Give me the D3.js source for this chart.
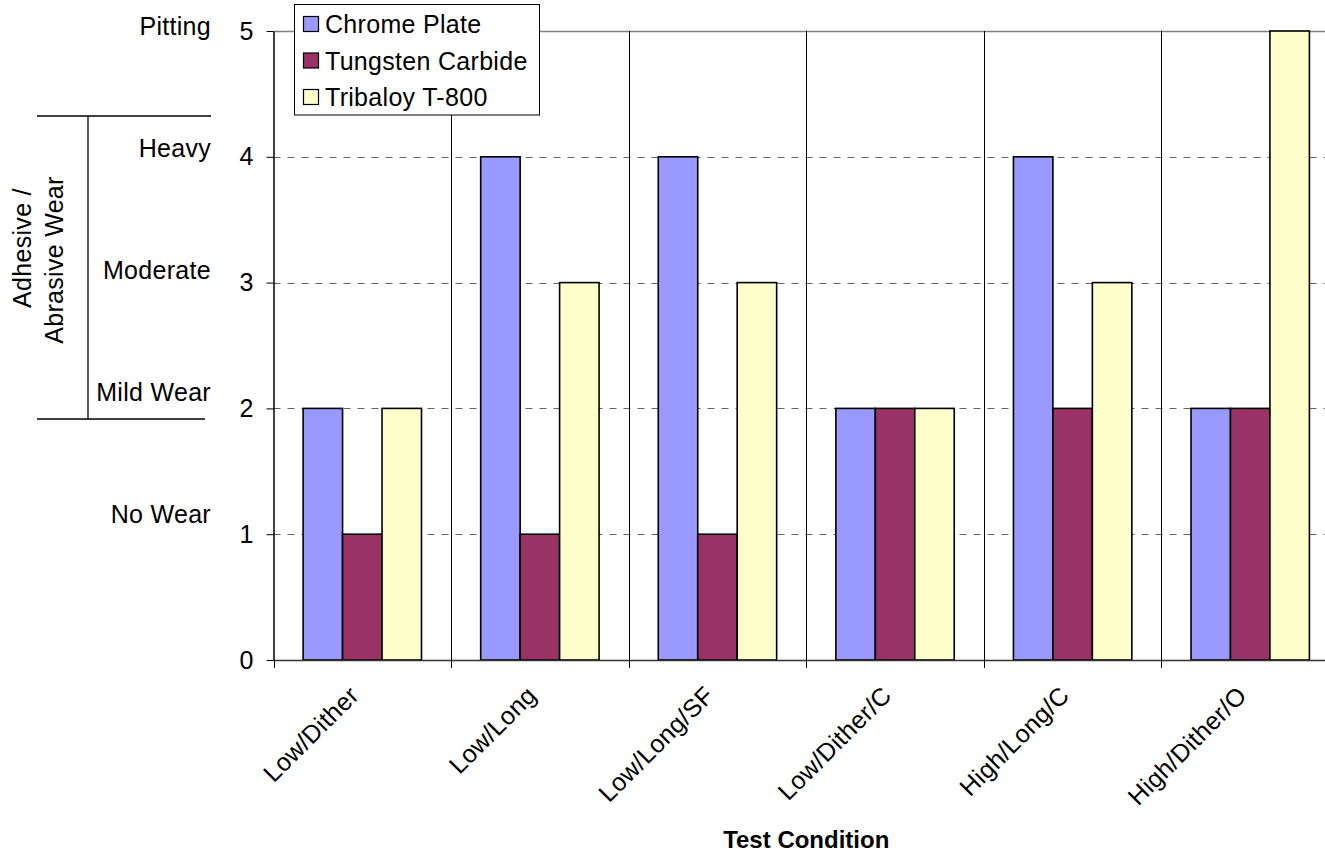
<!DOCTYPE html>
<html>
<head>
<meta charset="utf-8">
<script src="https://cdn.jsdelivr.net/npm/d3@7"></script>
<style>
  html, body { margin: 0; padding: 0; background: #fff; }
  svg { display: block; }
  text { font-family: "Liberation Sans", Arial, sans-serif; fill: #000; }
</style>
</head>
<body>
<svg id="chart" width="1325" height="856"></svg>
<script>
// ---------- data ----------
const categories = ["Low/Dither", "Low/Long", "Low/Long/SF", "Low/Dither/C", "High/Long/C", "High/Dither/O"];
const seriesNames = ["Chrome Plate", "Tungsten Carbide", "Tribaloy T-800"];
const chromePlate = [2, 4, 4, 2, 4, 2];
const tungstenCarbide = [1, 1, 1, 2, 2, 2];
const tribaloyT800 = [2, 3, 3, 2, 3, 5];
const yTickValues = [0, 1, 2, 3, 4, 5];
const wearLevelValues = [1, 2, 3, 4, 5];
const wearLevelLabels = ["No Wear", "Mild Wear", "Moderate", "Heavy", "Pitting"];
const yAxisTitleLines = ["Adhesive /", "Abrasive Wear"];
const xAxisTitle = "Test Condition";

// ---------- styles ----------
const colors = ["#9999FF", "#993366", "#FFFFCC"];
const fontSize = 25;
const letterSpacing = 0.3;

const seriesValues = [chromePlate, tungstenCarbide, tribaloyT800];
const table = categories.map((c, i) => ({
  category: c,
  values: seriesNames.map((s, j) => ({ series: s, index: j, value: seriesValues[j][i] }))
}));

const svg = d3.select("#chart");

// plot area
const plotLeft = 273.5, plotRight = 1339, plotTop = 31, plotBottom = 660;

const x = d3.scaleBand().domain(categories).range([plotLeft, plotRight]).paddingInner(0).paddingOuter(0);
const step = x.step();
const barW = step / 4.5; // Excel gap width 150%
const x1 = d3.scaleBand().domain(seriesNames).range([barW * 0.75, step - barW * 0.75]).padding(0);
const y = d3.scaleLinear().domain([0, 5]).range([plotBottom, plotTop]);

// horizontal gridlines (dashed) 1..4
svg.append("g").selectAll("line")
  .data(yTickValues.filter(v => v > 0 && v < 5))
  .join("line")
  .attr("x1", plotLeft).attr("x2", plotRight)
  .attr("y1", d => Math.round(y(d)) + 0.5).attr("y2", d => Math.round(y(d)) + 0.5)
  .attr("stroke", "#666").attr("stroke-width", 1).attr("stroke-dasharray", "7,7");

// top border (gray)
svg.append("line")
  .attr("x1", plotLeft).attr("x2", plotRight)
  .attr("y1", Math.round(y(5)) + 0.5).attr("y2", Math.round(y(5)) + 0.5)
  .attr("stroke", "#808080").attr("stroke-width", 1.5);

// vertical category gridlines
const boundaries = categories.map(c => x(c)).concat([x(categories[categories.length - 1]) + step]);
svg.append("g").selectAll("line")
  .data(boundaries.slice(1))
  .join("line")
  .attr("x1", d => Math.round(d) + 0.5).attr("x2", d => Math.round(d) + 0.5)
  .attr("y1", plotTop).attr("y2", plotBottom)
  .attr("stroke", "#000").attr("stroke-width", 1);

// bars
const groups = svg.append("g").selectAll("g")
  .data(table).join("g")
  .attr("transform", d => `translate(${x(d.category)},0)`);
groups.selectAll("rect")
  .data(d => d.values).join("rect")
  .attr("x", d => x1(d.series))
  .attr("width", x1.bandwidth())
  .attr("y", d => y(d.value))
  .attr("height", d => y(0) - y(d.value))
  .attr("fill", d => colors[d.index])
  .attr("stroke", "#000").attr("stroke-width", 1.6);

// x axis line + ticks at boundaries
svg.append("line")
  .attr("x1", plotLeft).attr("x2", plotRight)
  .attr("y1", plotBottom + 0.5).attr("y2", plotBottom + 0.5)
  .attr("stroke", "#333").attr("stroke-width", 1.5);
svg.append("g").selectAll("line")
  .data(boundaries)
  .join("line")
  .attr("x1", d => Math.round(d) + 0.5).attr("x2", d => Math.round(d) + 0.5)
  .attr("y1", plotBottom).attr("y2", plotBottom + 8)
  .attr("stroke", "#000").attr("stroke-width", 1);

// y axis
const yAxis = d3.axisLeft(y).tickValues(yTickValues).tickSize(7).tickSizeOuter(0).tickPadding(13).tickFormat(d3.format("d"));
const gy = svg.append("g").attr("transform", `translate(${plotLeft},0)`).call(yAxis);
gy.select(".domain").attr("stroke", "#000").attr("stroke-width", 1.5);
gy.selectAll(".tick line").attr("stroke", "#000");
gy.selectAll(".tick text")
  .style("font-family", '"Liberation Sans", Arial, sans-serif')
  .style("font-size", fontSize + "px").attr("fill", "#000");

// x tick labels rotated
svg.append("g").selectAll("text")
  .data(categories).join("text")
  .attr("transform", d => `translate(${x(d) + step / 2 - 2},${plotBottom + 37}) rotate(-45)`)
  .attr("text-anchor", "end")
  .style("font-size", fontSize + "px")
  .style("letter-spacing", letterSpacing + "px")
  .text(d => d);

// x axis title
svg.append("text")
  .attr("x", (plotLeft + plotRight) / 2).attr("y", 848)
  .attr("text-anchor", "middle")
  .style("font-size", "24px").style("font-weight", "bold")
  .text(xAxisTitle);

// wear level labels
const wearY = d3.scaleLinear().domain([1, 5]).range([514, 26]);
svg.append("g").selectAll("text")
  .data(wearLevelValues).join("text")
  .attr("x", 211).attr("y", d => wearY(d))
  .attr("dy", "0.36em")
  .attr("text-anchor", "end")
  .style("font-size", fontSize + "px")
  .style("letter-spacing", letterSpacing + "px")
  .text((d, i) => wearLevelLabels[i]);

// bracket
const bracket = svg.append("g").attr("stroke", "#000").attr("stroke-width", 1.3);
bracket.append("line").attr("x1", 37).attr("x2", 211).attr("y1", 116).attr("y2", 116);
bracket.append("line").attr("x1", 37).attr("x2", 205).attr("y1", 419).attr("y2", 419);
bracket.append("line").attr("x1", 88).attr("x2", 88).attr("y1", 116).attr("y2", 419);

// rotated axis title
const titleG = svg.append("g");
titleG.selectAll("text")
  .data(yAxisTitleLines).join("text")
  .attr("transform", (d, i) => `translate(${i === 0 ? 31 : 63},${i === 0 ? 248 : 260}) rotate(-90)`)
  .attr("text-anchor", "middle")
  .style("font-size", fontSize + "px")
  .style("letter-spacing", letterSpacing + "px")
  .text(d => d);

// legend
const legend = svg.append("g");
legend.append("rect")
  .attr("x", 294.5).attr("y", 4.5).attr("width", 245).attr("height", 110.5)
  .attr("fill", "#fff").attr("stroke", "#000").attr("stroke-width", 1);
const li = legend.selectAll("g.item").data(seriesNames).join("g").attr("class", "item")
  .attr("transform", (d, i) => `translate(0,${24 + i * 36.5})`);
li.append("rect")
  .attr("x", 303.5).attr("y", -7.5).attr("width", 15).attr("height", 15)
  .attr("fill", (d, i) => colors[i]).attr("stroke", "#000").attr("stroke-width", 1.2);
li.append("text")
  .attr("x", 325).attr("y", 0).attr("dy", "0.36em")
  .style("font-size", fontSize + "px")
  .style("letter-spacing", letterSpacing + "px")
  .text(d => d);
</script>
</body>
</html>
